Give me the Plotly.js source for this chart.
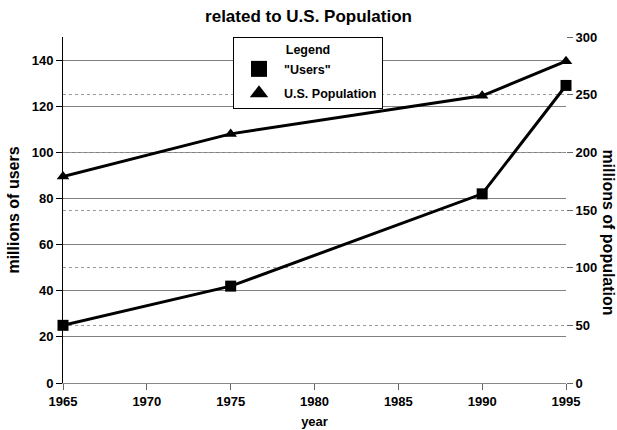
<!DOCTYPE html>
<html>
<head>
<meta charset="utf-8">
<script src="https://cdn.plot.ly/plotly-3.0.1.min.js"></script>
<style>html,body{margin:0;padding:0;background:#fff;}#chart{width:617px;height:430px;}</style>
</head>
<body>
<div id="chart"></div>
<script>
var years = [1965, 1975, 1990, 1995];
var users = [25, 42, 82, 129];
var population = [179, 216, 249, 279];
var seriesNames = ['"Users"', 'U.S. Population'];
var xTicks = [1965, 1970, 1975, 1980, 1985, 1990, 1995];

var FONT = 'Liberation Sans, Arial, Helvetica, sans-serif';
var bold = function(sz){ return {family: FONT, size: sz, color: '#000', weight: 'bold'}; };

var traces = [
  {x: years, y: users, yaxis: 'y', mode: 'lines+markers', showlegend: false, cliponaxis: false,
   line: {color: '#000', width: 3}, marker: {symbol: 'square', size: 11, color: '#000'}},
  {x: years, y: population, yaxis: 'y2', mode: 'lines+markers', showlegend: false, cliponaxis: false,
   line: {color: '#000', width: 3}, marker: {symbol: 'triangle-up', size: 11, color: '#000'}},
  {x: [null], y: [null], yaxis: 'y', mode: 'markers', name: seriesNames[0], legendgroup: 'a',
   marker: {symbol: 'square', size: 16, color: '#000'}},
  {x: [null], y: [null], yaxis: 'y2', mode: 'markers', name: seriesNames[1], legendgroup: 'b',
   marker: {symbol: 'triangle-up', size: 16, color: '#000'}}
];

var layout = {
  width: 617, height: 430,
  margin: {l: 63, r: 51, t: 37, b: 47},
  paper_bgcolor: '#fff', plot_bgcolor: '#fff',
  font: bold(12),
  title: {text: 'related to U.S. Population', font: bold(17), x: 0.5, xanchor: 'center', y: 0.976, yanchor: 'top'},
  xaxis: {range: [1965, 1995], tickvals: xTicks, ticktext: xTicks.map(String), ticks: 'outside', ticklen: 6,
    tickcolor: '#666', showline: true, linecolor: '#888', linewidth: 1, showgrid: false, zeroline: false,
    tickfont: bold(13), title: {text: 'year', font: bold(13), standoff: 9}},
  yaxis: {range: [0, 150], dtick: 20, tick0: 0, ticks: 'outside', ticklen: 6, tickcolor: '#000',
    showline: true, linecolor: '#000', linewidth: 1, showgrid: true, gridcolor: '#808080', gridwidth: 1,
    zeroline: false, tickfont: bold(13), title: {text: 'millions of users', font: bold(16), standoff: 8}},
  yaxis2: {range: [0, 300], dtick: 50, tick0: 0, overlaying: 'y', side: 'right', ticks: 'outside', ticklen: 6,
    tickcolor: '#666', showline: false, showgrid: true, gridcolor: '#999', griddash: 'dot', gridwidth: 1,
    zeroline: false, tickfont: bold(13)},
  legend: {x: 0.338, y: 1, xanchor: 'left', yanchor: 'top', bgcolor: '#fff', bordercolor: '#000', borderwidth: 1,
    font: bold(12.5), title: {text: 'Legend', side: 'top center', font: bold(12.5)}, itemsizing: 'trace',
    itemwidth: 40, tracegroupgap: 5},
  annotations: [
    {text: 'millions of population', xref: 'paper', yref: 'paper', x: 1.085, y: 0.436, xanchor: 'center', yanchor: 'middle',
     textangle: 90, showarrow: false, font: bold(16)}
  ]
};

Plotly.newPlot('chart', traces, layout, {displayModeBar: false, staticPlot: true});
</script>
</body>
</html>
